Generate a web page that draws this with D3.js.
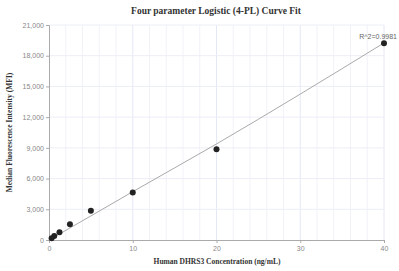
<!DOCTYPE HTML>
<html>
  <head>
    <meta charset='utf-8'>
    <title>4-PL Curve Fit</title>
    <script src='https://d3js.org/d3.v7.min.js'></script>
  </head>
  <style>
    body {margin:0; background:#fff;}
    .tick text {font-family:'Liberation Sans',Arial,sans-serif; font-size:7px; fill:#888;}
    .ttl {font-family:'Liberation Serif','Times New Roman',serif; font-weight:bold; fill:#333;}
  </style>
  <body>
    <svg id='chart'></svg>
<script>
  // measured standards
  var conc=[0.3125,0.625,1.25,2.5,5,10,20,40];
  var mfi=[170,390,750,1530,2860,4640,8870,19220];
  // fitted curve
  var fitX=[0,5,10,20,30,40];
  var fitY=[0,2350,4720,9380,14250,19250];
  var xTicks=[0,10,20,30,40];
  var yTicks=[0,3000,6000,9000,12000,15000,18000,21000];
  var r2Label='R^2=0.9981';

  var W=399,H=271;
  var margin={top:25,right:15,bottom:31,left:49};
  var svg=d3.select('#chart').attr('width',W).attr('height',H);
  var x=d3.scaleLinear().domain([0,40]).range([margin.left,W-margin.right]),
      y=d3.scaleLinear().domain([0,21000]).range([H-margin.bottom,margin.top]);

  // grid
  var grid=svg.append('g');
  grid.selectAll('.vg').data(d3.range(2,41,2)).join('line')
      .attr('x1',d=>x(d)).attr('x2',d=>x(d))
      .attr('y1',y(21000)).attr('y2',y(0))
      .attr('stroke',d=>d%10==0?'#e4e8f4':'#f1f2f8').attr('stroke-width',1);
  grid.selectAll('.hg').data(yTicks.slice(1)).join('line')
      .attr('x1',x(0)).attr('x2',x(40))
      .attr('y1',d=>y(d)).attr('y2',d=>y(d))
      .attr('stroke','#eceef6').attr('stroke-width',1);

  var xAxis=svg.append('g').attr('transform',`translate(0,${y(0)})`)
      .call(d3.axisBottom(x).tickValues(xTicks).tickSize(3).tickPadding(3));
  var yAxis=svg.append('g').attr('transform',`translate(${x(0)},0)`)
      .call(d3.axisLeft(y).tickValues(yTicks).tickSize(3).tickPadding(2)
            .tickFormat(d3.format(',')));
  svg.selectAll('.domain').attr('stroke','#aaa');
  svg.selectAll('.tick line').attr('stroke','#aaa');

  var line=d3.line().curve(d3.curveMonotoneX)
      .x(d=>x(d[0])).y(d=>y(d[1]));
  svg.append('path').datum(d3.zip(fitX,fitY)).attr('d',line)
     .attr('fill','none').attr('stroke','#aaa').attr('stroke-width',1);

  svg.selectAll('.pt').data(d3.zip(conc,mfi)).join('circle')
     .attr('cx',d=>x(d[0])).attr('cy',d=>y(d[1])).attr('r',3)
     .attr('fill','#222');

  svg.append('text').attr('x',W-2).attr('y',39).attr('text-anchor','end')
     .attr('font-family','Liberation Sans,Arial,sans-serif').attr('font-size',7)
     .attr('fill','#666').text(r2Label);

  svg.append('text').attr('class','ttl').attr('x',216).attr('y',14)
     .attr('text-anchor','middle').attr('font-size',9.5)
     .text('Four parameter Logistic (4-PL) Curve Fit');
  svg.append('text').attr('class','ttl').attr('x',217).attr('y',264)
     .attr('text-anchor','middle').attr('font-size',7.5)
     .text('Human DHRS3 Concentration (ng/mL)');
  svg.append('text').attr('class','ttl')
     .attr('transform',`translate(12,${(y(0)+y(21000))/2}) rotate(-90)`)
     .attr('text-anchor','middle').attr('font-size',7.5)
     .text('Median Fluorescence Intensity (MFI)');
</script>
  </body>
</html>
